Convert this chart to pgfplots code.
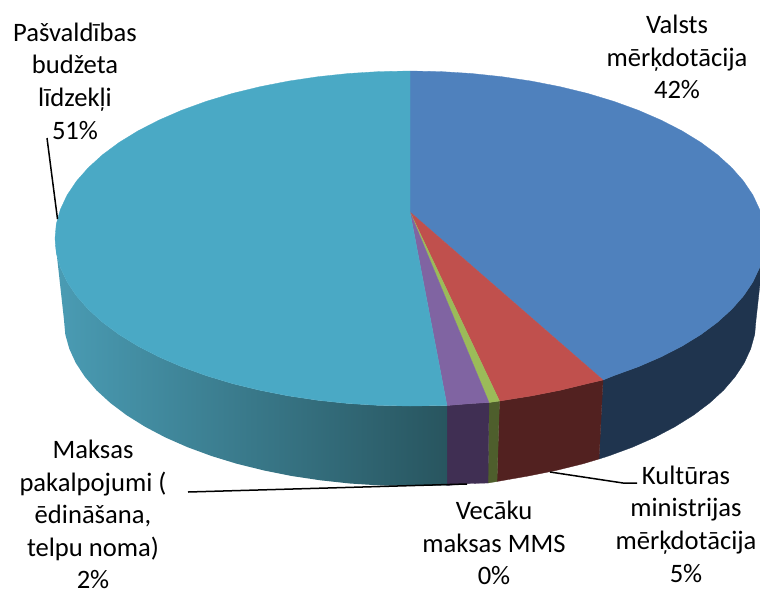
\documentclass[border=0pt]{standalone}
\usepackage{fontspec}
\setmainfont{Carlito}
\usepackage{pgfplots}
\pgfplotsset{compat=1.18}

\definecolor{cblue}{HTML}{4F81BD}
\definecolor{cred}{HTML}{C0504D}
\definecolor{cgreen}{HTML}{9BBB59}
\definecolor{cpurple}{HTML}{8064A2}
\definecolor{cteal}{HTML}{4AA9C5}
\definecolor{dblue}{HTML}{1F344E}
\definecolor{dred}{HTML}{522120}
\definecolor{dgreen}{HTML}{4E5E2C}
\definecolor{dpurple}{HTML}{402F53}
\definecolor{dtealL}{HTML}{4A9CB4}
\definecolor{dtealM}{HTML}{37798D}
\definecolor{dtealR}{HTML}{28555F}

\tikzset{
    lab/.style={font=\fontsize{26.6}{32.6}\selectfont, align=center, inner sep=0pt, anchor=center, text=black},
    lead/.style={black, line width=1.5pt},
}

\begin{document}
\begin{tikzpicture}
\begin{axis}[
    scale only axis,
    width=760pt,
    height=590pt,
    xmin=0, xmax=760,
    ymin=0, ymax=590,
    y dir=reverse,
    hide axis,
    no markers,
    clip=true,
    ]
% keeps the page as large as the axis
\path (axis cs:0,0) rectangle (axis cs:760,590);
% side walls
\addplot[fill=dblue, draw=dblue, line width=.3pt] coordinates {
(765,238.5) (763.7,253.1) (759.6,267.6) (752.9,281.9) (743.6,295.8) (731.7,309.3) (717.4,322.3) (700.8,334.6) (681.9,346.2) (661,356.9) (638.2,366.8) (613.6,375.7) (603,380)
(599,459) (608.5,456) (632.4,447.2) (654.7,437.4) (675,426.7) (693.4,415.2) (709.6,403) (723.6,390.2) (735.1,376.8) (744.2,363) (750.7,348.8) (754.7,334.5) (756,320)
} -- cycle;
\addplot[fill=dred, draw=dred, line width=.3pt] coordinates {
(603,380) (587.5,383.6) (560,390.3) (531.4,395.9) (499.5,401)
(497,481.5) (528.3,476) (556.2,470.4) (583,463.8) (599,459)
} -- cycle;
\addplot[fill=dgreen, draw=dgreen, line width=.3pt] coordinates {
(499.5,401) (489,402.5) (488,483) (497,481.5)
} -- cycle;
\addplot[fill=dpurple, draw=dpurple, line width=.3pt] coordinates {
(489,402.5) (471.6,403.5) (447,405.5) (447,485.5) (470.1,483.5) (488,483)
} -- cycle;
\addplot[left color=dtealL, middle color=dtealM, right color=dtealR, draw=none] coordinates {
(55,238.5) (56.3,253.1) (60.4,267.6) (67.1,281.9) (76.4,295.8) (88.3,309.3) (102.6,322.3) (119.2,334.6) (138.1,346.2) (159,356.9) (181.8,366.8) (206.4,375.7) (232.5,383.6) (260,390.3) (288.6,395.9) (318.1,400.3) (348.4,403.5) (379,405.4) (410,406) (447,405.5)
(447,485.5) (440.2,485.4) (410,486) (379.8,485.4) (349.9,483.5) (320.5,480.3) (291.7,476) (263.8,470.4) (237,463.8) (211.5,456) (187.6,447.2) (165.3,437.4) (145,426.7) (126.6,415.2) (110.4,403) (96.4,390.2) (84.9,376.8) (75.8,363) (69.3,348.8) (65.3,334.5) (64,320)
} -- cycle;
% top face
\addplot[fill=cblue, draw=cblue, line width=.3pt] coordinates {
(410,212) (410,71) (441,71.6) (471.6,73.5) (501.9,76.7) (531.4,81.1) (560,86.7) (587.5,93.4) (613.6,101.3) (638.2,110.2) (661,120.1) (681.9,130.8) (700.8,142.4) (717.4,154.7) (731.7,167.7) (743.6,181.2) (752.9,195.1) (759.6,209.4) (763.7,223.9)
(765,238.5) (763.7,253.1) (759.6,267.6) (752.9,281.9) (743.6,295.8) (731.7,309.3) (717.4,322.3) (700.8,334.6) (681.9,346.2) (661,356.9) (638.2,366.8) (613.6,375.7) (603,380)
} -- cycle;
\addplot[fill=cred, draw=cred, line width=.3pt] coordinates {
(410,212) (603,380) (587.5,383.6) (560,390.3) (531.4,395.9) (499.5,401)
} -- cycle;
\addplot[fill=cgreen, draw=cgreen, line width=.3pt] coordinates {
(410,212) (499.5,401) (489,402.5)
} -- cycle;
\addplot[fill=cpurple, draw=cpurple, line width=.3pt] coordinates {
(410,212) (489,402.5) (471.6,403.5) (447,405.5)
} -- cycle;
\addplot[fill=cteal, draw=cteal, line width=.3pt] coordinates {
(410,212) (447,405.5) (410,406) (379,405.4) (348.4,403.5) (318.1,400.3) (288.6,395.9) (260,390.3) (232.5,383.6) (206.4,375.7) (181.8,366.8) (159,356.9) (138.1,346.2) (119.2,334.6) (102.6,322.3) (88.3,309.3) (76.4,295.8) (67.1,281.9) (60.4,267.6) (56.3,253.1) (55,238.5)
(56.3,223.9) (60.4,209.4) (67.1,195.1) (76.4,181.2) (88.3,167.7) (102.6,154.7) (119.2,142.4) (138.1,130.8) (159,120.1) (181.8,110.2) (206.4,101.3) (232.5,93.4) (260,86.7) (288.6,81.1) (318.1,76.7) (348.4,73.5) (379,71.6) (410,71)
} -- cycle;
% leader lines
\addplot[lead] coordinates {(47,138) (57.5,219)};
\addplot[lead] coordinates {(188,492) (467,484)};
\addplot[lead] coordinates {(550,472) (623,483) (637,483)};
% labels
\node[lab] at (axis cs:677,57) {Valsts\\mērķdotācija\\42\%};
\node[lab] at (axis cs:75,81) {Pašvaldības\\budžeta\\līdzekļi\\51\%};
\node[lab] at (axis cs:93,514.5) {Maksas\\pakalpojumi (\\ēdināšana,\\telpu noma)\\2\%};
\node[lab] at (axis cs:494,543) {Vecāku\\maksas MMS\\0\%};
\node[lab] at (axis cs:686,524) {Kultūras\\ministrijas\\mērķdotācija\\5\%};
\end{axis}
\end{tikzpicture}
\end{document}
